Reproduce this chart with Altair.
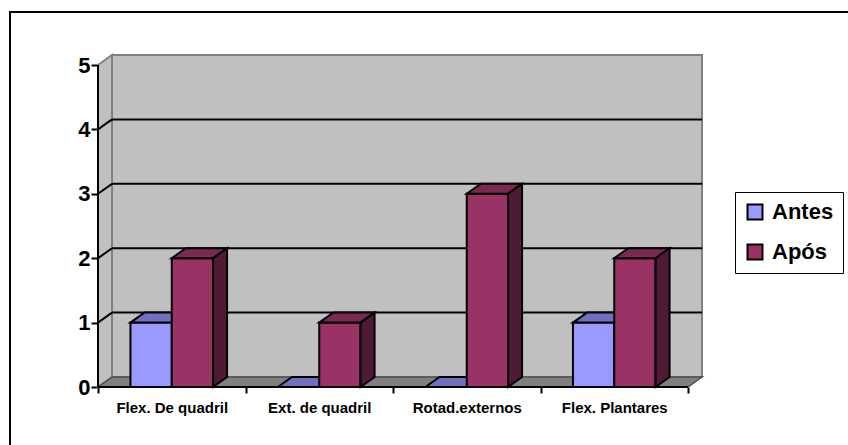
import json
import altair as alt
import pandas as pd

# ---- values -------------------------------------------------------------
categories = ["Flex. De quadril", "Ext. de quadril", "Rotad.externos", "Flex. Plantares"]
series = ["Antes", "Após"]
antes = [1, 0, 0, 1]
apos = [2, 1, 3, 2]
y_ticks = [0, 1, 2, 3, 4, 5]

# ---- style ----------------------------------------------------------------
front_colors = ["#9999FF", "#993366"]
top_colors = ["#7070C0", "#7A2952"]
side_colors = ["#5A5A9E", "#4F1A36"]
WALL = "#C0C0C0"
FLOOR = "#808080"
EDGE = "#808080"
FONT = "Liberation Sans"

DX = 0.095   # 3-D depth along the category axis (data units)
DY = 0.155   # 3-D depth along the value axis (data units)
BAR_W = 0.28
N = len(categories)
YMAX = y_ticks[-1]
PLOT_W, PLOT_H = 590, 322

# ---- derived geometry tables ---------------------------------------------
bar_rows, top_rows, side_rows = [], [], []
for s_idx, (name, vals) in enumerate(zip(series, [antes, apos])):
    for i, v in enumerate(vals):
        x0 = i + 0.5 - BAR_W if s_idx == 0 else i + 0.5
        x1 = x0 + BAR_W
        key = f"{name}-{i}"
        bar_rows.append(dict(series=name, cat=categories[i], bar=key, value=v, x0=x0, x1=x1, base=0))
        top_rows.append(dict(series=name, bar=key, y=v, xa=x0, xb=x1))
        top_rows.append(dict(series=name, bar=key, y=v + DY, xa=x0 + DX, xb=x1 + DX))
        side_rows.append(dict(series=name, bar=key, x=x1, ya=0, yb=v))
        side_rows.append(dict(series=name, bar=key, x=x1 + DX, ya=DY, yb=v + DY))
bars = pd.DataFrame(bar_rows)
tops = pd.DataFrame(top_rows)
sides = pd.DataFrame(side_rows)

walls_back = pd.DataFrame([dict(x0=DX, x1=N + DX, y0=DY, y1=YMAX + DY)])
wall_left = pd.DataFrame([dict(x=0, ya=0, yb=YMAX), dict(x=DX, ya=DY, yb=YMAX + DY)])
floor = pd.DataFrame([dict(y=0, xa=0, xb=N), dict(y=DY, xa=DX, xb=N + DX)])

grid_rows = []
for t in y_ticks[1:-1]:
    grid_rows.append(dict(xa=DX, xb=N + DX, ya=t + DY, yb=t + DY))   # back wall
    grid_rows.append(dict(xa=0, xb=DX, ya=t, yb=t + DY))              # side wall
grid = pd.DataFrame(grid_rows)

# front edges of the box (value axis and category axis lines)
front_edges = pd.DataFrame([
    dict(xa=0, xb=0, ya=0, yb=YMAX),
    dict(xa=0, xb=N, ya=0, yb=0),
])

# ---- scales & axes (identical on every layer so they merge) ----------------
xs = alt.Scale(domain=[0, N], nice=False, zero=False)
ys = alt.Scale(domain=[0, YMAX], nice=False, zero=False)

cat_array = "[" + ",".join(json.dumps(c) for c in categories) + "]"
x_axis = alt.Axis(
    values=list(range(N + 1)),
    labelExpr=f"{cat_array}[datum.value] || ''",
    labelOffset=PLOT_W / N / 2,
    title=None, grid=False, domain=False,
    tickColor="black", tickWidth=2, tickSize=6, labelPadding=7,
    labelFont=FONT, labelFontSize=15, labelFontWeight="bold", labelColor="black",
    labelAngle=0, labelAlign="center", labelBound=False, labelOverlap=False,
)
y_axis = alt.Axis(
    values=y_ticks, title=None, grid=False, domain=False,
    tickColor="black", tickWidth=2, tickSize=7, labelPadding=1,
    labelFont=FONT, labelFontSize=22, labelFontWeight="bold", labelColor="black",
    format="d", labelOverlap=False,
)


def X(field):
    return alt.X(field, scale=xs, axis=x_axis, title=None)


def Y(field):
    return alt.Y(field, scale=ys, axis=y_axis, title=None)


color_scale = alt.Scale(domain=series, range=front_colors)
legend = alt.Legend(
    title=None, orient="none", legendX=637, legendY=127,
    padding=9, strokeColor="black", fillColor="white",
    symbolType="square", symbolSize=225, symbolStrokeColor="black", symbolStrokeWidth=2,
    labelFont=FONT, labelFontSize=22, labelFontWeight="bold", labelColor="black",
    labelOffset=6, rowPadding=16,
)

# ---- layers ------------------------------------------------------------------
back = alt.Chart(walls_back).mark_rect(fill=WALL, stroke=EDGE, strokeWidth=2).encode(
    x=X("x0:Q"), x2="x1:Q", y=Y("y0:Q"), y2="y1:Q",
)
left = alt.Chart(wall_left).mark_area(orient="vertical", fill=WALL, stroke=EDGE, strokeWidth=2).encode(
    x=X("x:Q"), y=Y("ya:Q"), y2="yb:Q",
)
flr = alt.Chart(floor).mark_area(orient="horizontal", fill=FLOOR, stroke="#505050", strokeWidth=1.5).encode(
    y=Y("y:Q"), x=X("xa:Q"), x2="xb:Q",
)
gridlines = alt.Chart(grid).mark_rule(color="black", strokeWidth=2).encode(
    x=X("xa:Q"), x2="xb:Q", y=Y("ya:Q"), y2="yb:Q",
)
edges = alt.Chart(front_edges).mark_rule(color="black", strokeWidth=2).encode(
    x=X("xa:Q"), x2="xb:Q", y=Y("ya:Q"), y2="yb:Q",
)


def front_layer(name):
    return alt.Chart(bars).transform_filter(alt.datum.series == name).mark_rect(
        stroke="black", strokeWidth=2, strokeJoin="miter"
    ).encode(
        x=X("x0:Q"), x2="x1:Q", y=Y("base:Q"), y2="value:Q",
        color=alt.Color("series:N", scale=color_scale, legend=legend),
    )


def top_layer(name, col):
    return alt.Chart(tops).transform_filter(alt.datum.series == name).mark_area(
        orient="horizontal", fill=col, stroke="black", strokeWidth=2, strokeJoin="miter"
    ).encode(
        y=Y("y:Q"), x=X("xa:Q"), x2="xb:Q", detail="bar:N",
    )


def side_layer(name, col):
    return alt.Chart(sides).transform_filter(alt.datum.series == name).mark_area(
        orient="vertical", fill=col, stroke="black", strokeWidth=2, strokeJoin="miter"
    ).encode(
        x=X("x:Q"), y=Y("ya:Q"), y2="yb:Q", detail="bar:N",
    )


frame = alt.Chart(alt.Data(values=[{}])).mark_rect(
    fillOpacity=0, stroke="black", strokeWidth=2
).encode(
    x=alt.value(-88), x2=alt.value(770), y=alt.value(-53), y2=alt.value(400),
)

chart = alt.layer(
    back, left, flr, gridlines, edges,
    front_layer(series[0]), top_layer(series[0], top_colors[0]),
    front_layer(series[1]), top_layer(series[1], top_colors[1]), side_layer(series[1], side_colors[1]),
    frame,
).properties(
    width=PLOT_W, height=PLOT_H,
    autosize=alt.AutoSizeParams(type="none"),
    padding={"left": 98, "top": 65, "right": 160, "bottom": 58},
    background="white",
).configure_view(stroke=None)

chart.save("out.html", embed_options={"renderer": "svg", "actions": False})
